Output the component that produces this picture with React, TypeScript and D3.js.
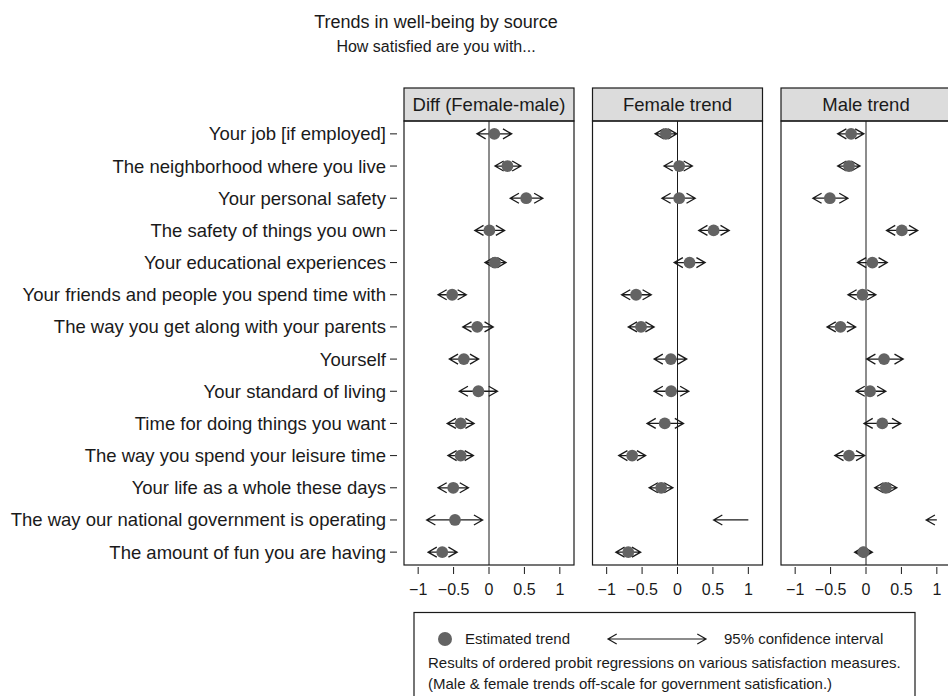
import React from "react";
import * as d3 from "d3";

// Satisfaction items, top to bottom
const items = [
  "Your job [if employed]",
  "The neighborhood where you live",
  "Your personal safety",
  "The safety of things you own",
  "Your educational experiences",
  "Your friends and people you spend time with",
  "The way you get along with your parents",
  "Yourself",
  "Your standard of living",
  "Time for doing things you want",
  "The way you spend your leisure time",
  "Your life as a whole these days",
  "The way our national government is operating",
  "The amount of fun you are having",
];

const panelTitles = ["Diff (Female-male)", "Female trend", "Male trend"];

// Estimated trends (null = off-scale)
const diffEst = [0.075, 0.26, 0.525, 0.005, 0.085, -0.52, -0.166, -0.355, -0.15, -0.4, -0.4, -0.505, -0.48, -0.66];
const diffLo = [-0.17, 0.085, 0.3, -0.2, -0.057, -0.72, -0.37, -0.56, -0.42, -0.59, -0.58, -0.72, -0.88, -0.86];
const diffHi = [0.32, 0.45, 0.76, 0.22, 0.24, -0.32, 0.06, -0.146, 0.12, -0.21, -0.22, -0.29, -0.09, -0.45];

const femaleEst = [-0.165, 0.024, 0.024, 0.51, 0.17, -0.585, -0.515, -0.094, -0.09, -0.18, -0.64, -0.23, null, -0.695];
const femaleLo = [-0.316, -0.19, -0.22, 0.3, -0.047, -0.79, -0.695, -0.33, -0.33, -0.43, -0.83, -0.4, 0.51, -0.87];
const femaleHi = [-0.01, 0.21, 0.25, 0.73, 0.39, -0.37, -0.33, 0.13, 0.16, 0.085, -0.45, -0.065, null, -0.52];

const maleEst = [-0.21, -0.24, -0.51, 0.506, 0.09, -0.05, -0.36, 0.255, 0.057, 0.23, -0.24, 0.28, null, -0.037];
const maleLo = [-0.4, -0.4, -0.75, 0.29, -0.12, -0.255, -0.55, 0.01, -0.14, -0.028, -0.44, 0.123, 0.85, -0.16];
const maleHi = [-0.03, -0.085, -0.255, 0.73, 0.3, 0.14, -0.146, 0.525, 0.28, 0.49, -0.018, 0.435, null, 0.09];

const xTicks = [-1, -0.5, 0, 0.5, 1];
const xDomain: [number, number] = [-1.2, 1.2];
const clipMax = 1; // off-scale intervals are cut here

const panels = [
  { title: panelTitles[0], est: diffEst, lo: diffLo, hi: diffHi },
  { title: panelTitles[1], est: femaleEst, lo: femaleLo, hi: femaleHi },
  { title: panelTitles[2], est: maleEst, lo: maleLo, hi: maleHi },
];

const W = 948;
const H = 696;
const FONT = "'Liberation Sans', Arial, Helvetica, sans-serif";
const PANEL_W = 170;
const PANEL_GAP = 18.5;
const FIRST_LEFT = 404;
const STRIP_TOP = 88;
const PLOT_TOP = 121;
const PLOT_BOTTOM = 565;
const INK = "#1a1a1a";
const DOT = "#636363";
const HEAD_X = 8.7;
const HEAD_Y = 5;

const fmt = (v: number) => (v < 0 ? "\u2212" + Math.abs(v) : String(v));

function arrowPath(x0: number, x1: number, y: number, left: boolean, right: boolean) {
  const p = d3.path();
  p.moveTo(x0, y);
  p.lineTo(x1, y);
  if (left) {
    p.moveTo(x0 + HEAD_X, y - HEAD_Y);
    p.lineTo(x0, y);
    p.lineTo(x0 + HEAD_X, y + HEAD_Y);
  }
  if (right) {
    p.moveTo(x1 - HEAD_X, y - HEAD_Y);
    p.lineTo(x1, y);
    p.lineTo(x1 - HEAD_X, y + HEAD_Y);
  }
  return p.toString();
}

export default function App() {
  const y = d3.scalePoint<string>().domain(items).range([PLOT_TOP, PLOT_BOTTOM]).padding(0.4);

  return (
    <div style={{ position: "absolute", left: 0, top: 0 }}>
      <svg width={W} height={H} style={{ display: "block", background: "#fff" }} fontFamily={FONT}>
        <text x={436} y={28} textAnchor="middle" fontSize={18} fill={INK}>
          Trends in well-being by source
        </text>
        <text x={436} y={52} textAnchor="middle" fontSize={16} fill={INK}>
          How satisfied are you with...
        </text>

        {/* category labels and ticks */}
        {items.map((it) => (
          <g key={it}>
            <text x={386} y={(y(it) as number) + 6.5} textAnchor="end" fontSize={18.5} fill={INK}>
              {it}
            </text>
            <line x1={390} x2={397} y1={y(it)} y2={y(it)} stroke={INK} strokeWidth={1} />
          </g>
        ))}

        {panels.map((pn, pi) => {
          const left = FIRST_LEFT + pi * (PANEL_W + PANEL_GAP);
          const x = d3.scaleLinear().domain(xDomain).range([left, left + PANEL_W]);
          return (
            <g key={pn.title}>
              {/* strip */}
              <rect x={left} y={STRIP_TOP} width={PANEL_W} height={PLOT_TOP - STRIP_TOP} fill="#dcdcdc" stroke={INK} strokeWidth={1.2} />
              <text x={left + PANEL_W / 2} y={STRIP_TOP + 23} textAnchor="middle" fontSize={18.5} fill={INK}>
                {pn.title}
              </text>
              {/* plot frame */}
              <rect x={left} y={PLOT_TOP} width={PANEL_W} height={PLOT_BOTTOM - PLOT_TOP} fill="none" stroke={INK} strokeWidth={1.2} />
              <line x1={x(0)} x2={x(0)} y1={PLOT_TOP} y2={PLOT_BOTTOM} stroke={INK} strokeWidth={1} />
              {/* x axis */}
              {xTicks.map((t) => (
                <g key={t}>
                  <line x1={x(t)} x2={x(t)} y1={PLOT_BOTTOM + 2} y2={PLOT_BOTTOM + 9} stroke={INK} strokeWidth={1} />
                  <text x={x(t)} y={595} textAnchor="middle" fontSize={16} fill={INK}>
                    {fmt(t)}
                  </text>
                </g>
              ))}
              {/* intervals and estimates */}
              {items.map((it, i) => {
                const yy = y(it) as number;
                const lo = pn.lo[i];
                const hi = pn.hi[i];
                const est = pn.est[i];
                const offScale = hi === null;
                const x0 = x(lo);
                const x1 = x(offScale ? clipMax : Math.min(hi as number, clipMax));
                return (
                  <g key={it}>
                    <path d={arrowPath(x0, x1, yy, true, !offScale)} fill="none" stroke={INK} strokeWidth={1.3} />
                    {est !== null && <circle cx={x(est)} cy={yy} r={5.9} fill={DOT} />}
                  </g>
                );
              })}
            </g>
          );
        })}

        {/* legend */}
        <rect x={414} y={612.5} width={501} height={100} fill="#fff" stroke={INK} strokeWidth={1.2} />
        <circle cx={445} cy={639} r={7} fill={DOT} />
        <text x={465} y={644} fontSize={15} fill={INK}>
          Estimated trend
        </text>
        <path d={arrowPath(608, 706, 639, true, true)} fill="none" stroke={INK} strokeWidth={1.2} />
        <text x={724} y={644} fontSize={15} fill={INK}>
          95% confidence interval
        </text>
        <text x={428} y={668} fontSize={15} fill={INK}>
          Results of ordered probit regressions on various satisfaction measures.
        </text>
        <text x={428} y={689} fontSize={15} fill={INK}>
          (Male &amp; female trends off-scale for government satisfication.)
        </text>
      </svg>
    </div>
  );
}
